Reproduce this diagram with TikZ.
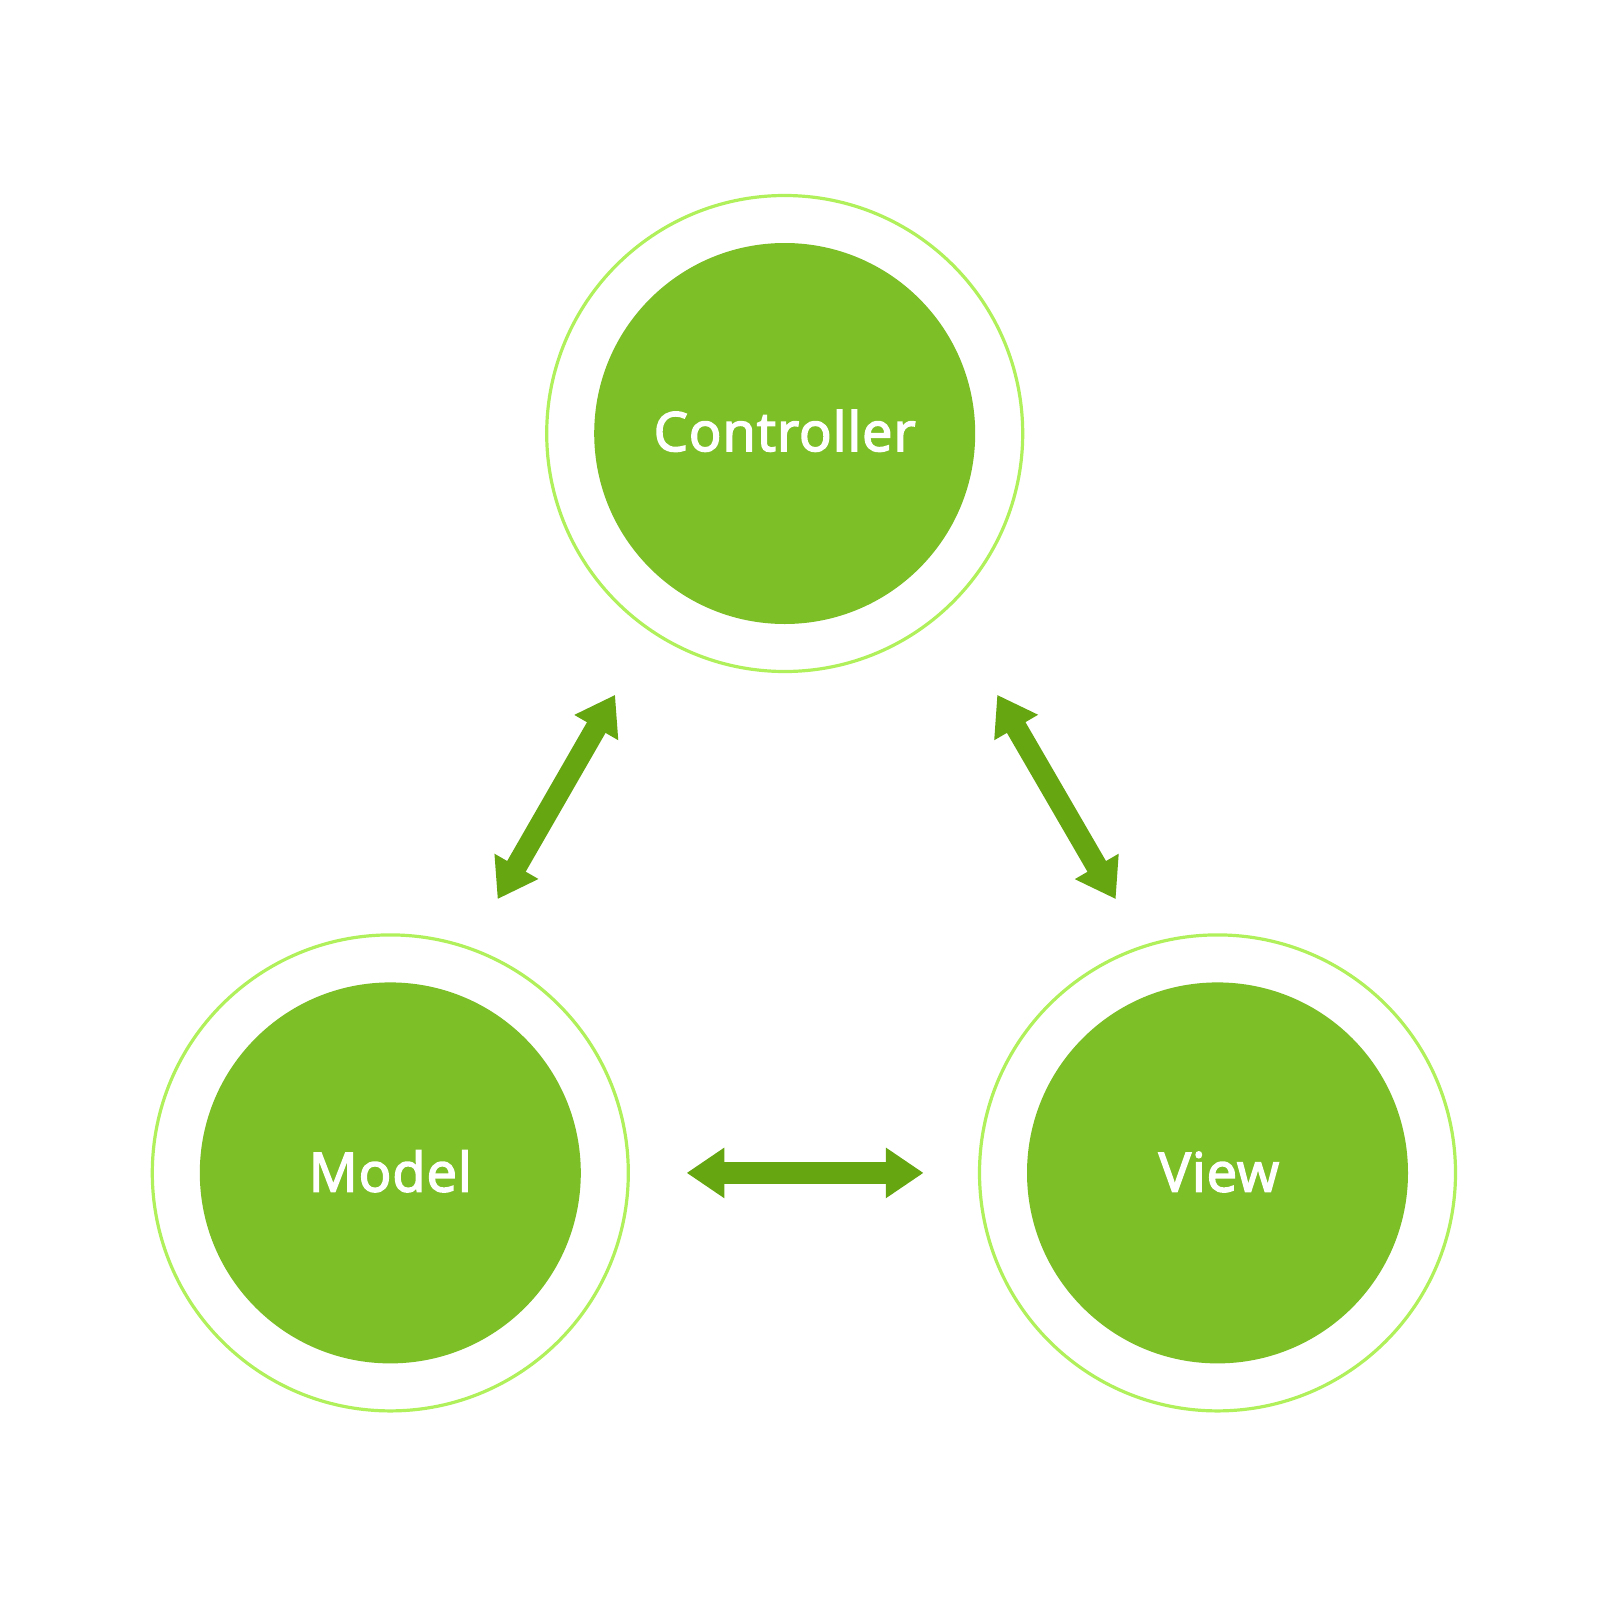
\documentclass[tikz,border=0pt]{standalone}
\usepackage{fontspec}
\setmainfont{Open Sans}
\newfontfamily\labfont{Open Sans}[LetterSpace=2,FakeBold=3]
\usetikzlibrary{arrows.meta}
\definecolor{fillgreen}{HTML}{7DBF26}
\definecolor{ringgreen}{HTML}{B0F05A}
\definecolor{arrgreen}{HTML}{66A611}
\begin{document}
\begin{tikzpicture}[x=0.5pt,y=-0.5pt,
  ring/.style={circle,draw=ringgreen,line width=1.6pt,minimum size=238pt,inner sep=0pt},
  core/.style={circle,fill=fillgreen,minimum size=190.5pt,inner sep=0pt},
  lbl/.style={text=white,font=\labfont\fontsize{27}{32}\selectfont,anchor=base,inner sep=0pt},
  arr/.style={draw=arrgreen,line width=#1,{Triangle[length=18.9pt,width=24pt]}-{Triangle[length=18.9pt,width=24pt]}},
  arr/.default=10.7pt]
% rings and cores
\node[ring] (cring) at (784.7,433.5) {};
\node[core] (ccore) at (784.7,433.5) {};
\node[ring] (mring) at (390.3,1172.9) {};
\node[core] (mcore) at (390.3,1172.9) {};
\node[ring] (vring) at (1217.5,1172.9) {};
\node[core] (vcore) at (1217.5,1172.9) {};
% labels
\node[lbl] (clab) at (784.7,451) {Controller};
\node[lbl] (mlab) at (390.3,1191.5) {Model};
\node[lbl] (vlab) at (1218.9,1191.5) {View};
% arrow end points
\coordinate (mc1) at (497.6,899.1);
\coordinate (mc2) at (615.1,694.8);
\coordinate (cv1) at (997.2,694.8);
\coordinate (cv2) at (1115.7,899.1);
\coordinate (mv1) at (686.6,1172.9);
\coordinate (mv2) at (923.6,1172.9);
\draw[arr] (mc1) -- (mc2);
\draw[arr] (cv1) -- (cv2);
\draw[arr=11.25pt] (mv1) -- (mv2);
\pgfresetboundingbox
\path[use as bounding box] (0,0) rectangle (1600,1600);
\end{tikzpicture}
\end{document}
